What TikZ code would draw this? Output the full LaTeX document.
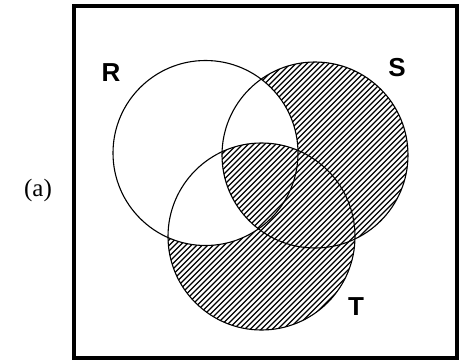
\documentclass[tikz,border=0pt]{standalone}
\usepackage{fontspec}
\newfontfamily\labfont{Liberation Sans}
\newfontfamily\capfont{Liberation Serif}
\begin{document}
\begin{tikzpicture}[x=1pt,y=-1pt,
  setline/.style={line width=1.1pt},
  hatch/.style={line width=1.3pt},
  setlabel/.style={font=\labfont\bfseries\fontsize{26}{28}\selectfont, inner sep=0pt},
  caplabel/.style={font=\capfont\fontsize{25}{28}\selectfont, inner sep=0pt},
  frame/.style={line width=3.8pt}]
\useasboundingbox (0,0) rectangle (459,360);
\coordinate (R) at (205.5,153);
\coordinate (S) at (315,155);
\coordinate (T) at (261.5,236.5);
% hatching of (S u T) \ R
\begin{scope}
  \clip (S) circle (93) (T) circle (93.5);
  \begin{scope}[even odd rule]
    \clip (0,0) rectangle (459,360) (R) circle (92.5);
    \foreach \t in {-420,-414.5,...,470} \draw[hatch] (\t,400) -- ++(400,-400);
  \end{scope}
\end{scope}
% hatching of R n S n T
\begin{scope}
  \clip (R) circle (92.5);
  \clip (S) circle (93);
  \clip (T) circle (93.5);
  \foreach \t in {-420,-414.5,...,470} \draw[hatch] (\t,400) -- ++(400,-400);
\end{scope}
\draw[setline] (R) circle (92.5);
\draw[setline] (S) circle (93);
\draw[setline] (T) circle (93.5);
\draw[frame] (74,6) rectangle (457,358);
\node[setlabel] (lr) at (111,73) {R};
\node[setlabel] (ls) at (397,68) {S};
\node[setlabel] (lt) at (356,307) {T};
\node[caplabel] (la) at (38,190) {(a)};
\end{tikzpicture}
\end{document}
